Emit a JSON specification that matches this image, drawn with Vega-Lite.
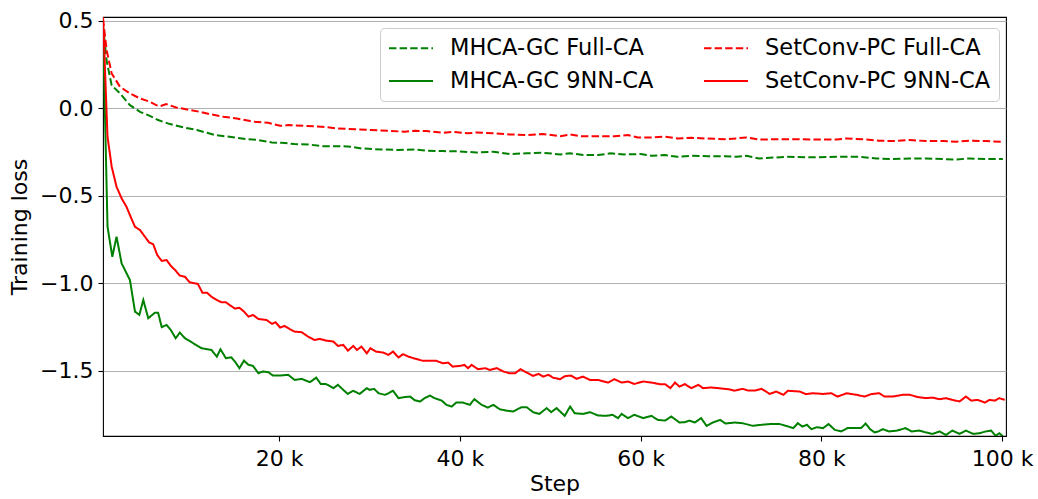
{
  "$schema": "https://vega.github.io/schema/vega-lite/v6.json",
  "width": 903,
  "height": 419,
  "autosize": {"type": "none"},
  "padding": {"left": 103, "top": 17, "right": 32, "bottom": 63},
  "background": "white",
  "config": {
    "font": "DejaVu Sans",
    "view": {"stroke": "#000000", "strokeWidth": 1.1},
    "axis": {
      "labelFont": "DejaVu Sans", "titleFont": "DejaVu Sans",
      "labelFontSize": 22, "titleFontSize": 22, "titleFontWeight": "normal",
      "labelColor": "#000000", "titleColor": "#000000",
      "tickColor": "#000000", "tickSize": 5, "tickWidth": 1.1,
      "domain": false, "labelPadding": 5
    },
    "legend": {
      "labelFont": "DejaVu Sans", "labelFontSize": 22.5, "labelColor": "#000000", "labelLimit": 0
    }
  },
  "data": {"values": [
    {"series":"MHCA-GC Full-CA","step":500,"loss":0.47},
    {"series":"MHCA-GC Full-CA","step":900,"loss":0.27},
    {"series":"MHCA-GC Full-CA","step":1460,"loss":0.13},
    {"series":"MHCA-GC Full-CA","step":2380,"loss":0.084},
    {"series":"MHCA-GC Full-CA","step":3480,"loss":0.017},
    {"series":"MHCA-GC Full-CA","step":4600,"loss":-0.021},
    {"series":"MHCA-GC Full-CA","step":5500,"loss":-0.04},
    {"series":"MHCA-GC Full-CA","step":6600,"loss":-0.068},
    {"series":"MHCA-GC Full-CA","step":7900,"loss":-0.091},
    {"series":"MHCA-GC Full-CA","step":9400,"loss":-0.11},
    {"series":"MHCA-GC Full-CA","step":10900,"loss":-0.125},
    {"series":"MHCA-GC Full-CA","step":12000,"loss":-0.141},
    {"series":"MHCA-GC Full-CA","step":12900,"loss":-0.154},
    {"series":"MHCA-GC Full-CA","step":14500,"loss":-0.163},
    {"series":"MHCA-GC Full-CA","step":16400,"loss":-0.177},
    {"series":"MHCA-GC Full-CA","step":17700,"loss":-0.182},
    {"series":"MHCA-GC Full-CA","step":19200,"loss":-0.196},
    {"series":"MHCA-GC Full-CA","step":20300,"loss":-0.198},
    {"series":"MHCA-GC Full-CA","step":21700,"loss":-0.205},
    {"series":"MHCA-GC Full-CA","step":23200,"loss":-0.207},
    {"series":"MHCA-GC Full-CA","step":24700,"loss":-0.217},
    {"series":"MHCA-GC Full-CA","step":26500,"loss":-0.217},
    {"series":"MHCA-GC Full-CA","step":28000,"loss":-0.22},
    {"series":"MHCA-GC Full-CA","step":29100,"loss":-0.23},
    {"series":"MHCA-GC Full-CA","step":31300,"loss":-0.236},
    {"series":"MHCA-GC Full-CA","step":33200,"loss":-0.239},
    {"series":"MHCA-GC Full-CA","step":35000,"loss":-0.236},
    {"series":"MHCA-GC Full-CA","step":36300,"loss":-0.243},
    {"series":"MHCA-GC Full-CA","step":38100,"loss":-0.245},
    {"series":"MHCA-GC Full-CA","step":40000,"loss":-0.247},
    {"series":"MHCA-GC Full-CA","step":41800,"loss":-0.253},
    {"series":"MHCA-GC Full-CA","step":43700,"loss":-0.249},
    {"series":"MHCA-GC Full-CA","step":45500,"loss":-0.262},
    {"series":"MHCA-GC Full-CA","step":47400,"loss":-0.258},
    {"series":"MHCA-GC Full-CA","step":49200,"loss":-0.255},
    {"series":"MHCA-GC Full-CA","step":51100,"loss":-0.264},
    {"series":"MHCA-GC Full-CA","step":52200,"loss":-0.258},
    {"series":"MHCA-GC Full-CA","step":53800,"loss":-0.268},
    {"series":"MHCA-GC Full-CA","step":55300,"loss":-0.268},
    {"series":"MHCA-GC Full-CA","step":56700,"loss":-0.258},
    {"series":"MHCA-GC Full-CA","step":58200,"loss":-0.264},
    {"series":"MHCA-GC Full-CA","step":60000,"loss":-0.262},
    {"series":"MHCA-GC Full-CA","step":61200,"loss":-0.272},
    {"series":"MHCA-GC Full-CA","step":62700,"loss":-0.268},
    {"series":"MHCA-GC Full-CA","step":64100,"loss":-0.278},
    {"series":"MHCA-GC Full-CA","step":65600,"loss":-0.272},
    {"series":"MHCA-GC Full-CA","step":67500,"loss":-0.274},
    {"series":"MHCA-GC Full-CA","step":69300,"loss":-0.274},
    {"series":"MHCA-GC Full-CA","step":70600,"loss":-0.278},
    {"series":"MHCA-GC Full-CA","step":71700,"loss":-0.272},
    {"series":"MHCA-GC Full-CA","step":73100,"loss":-0.287},
    {"series":"MHCA-GC Full-CA","step":76100,"loss":-0.278},
    {"series":"MHCA-GC Full-CA","step":79100,"loss":-0.281},
    {"series":"MHCA-GC Full-CA","step":81700,"loss":-0.278},
    {"series":"MHCA-GC Full-CA","step":84200,"loss":-0.278},
    {"series":"MHCA-GC Full-CA","step":86100,"loss":-0.287},
    {"series":"MHCA-GC Full-CA","step":87900,"loss":-0.291},
    {"series":"MHCA-GC Full-CA","step":89800,"loss":-0.287},
    {"series":"MHCA-GC Full-CA","step":91600,"loss":-0.287},
    {"series":"MHCA-GC Full-CA","step":93500,"loss":-0.291},
    {"series":"MHCA-GC Full-CA","step":95000,"loss":-0.293},
    {"series":"MHCA-GC Full-CA","step":96400,"loss":-0.287},
    {"series":"MHCA-GC Full-CA","step":98200,"loss":-0.291},
    {"series":"MHCA-GC Full-CA","step":100100,"loss":-0.291},

    {"series":"SetConv-PC Full-CA","step":500,"loss":0.51},
    {"series":"SetConv-PC Full-CA","step":900,"loss":0.331},
    {"series":"SetConv-PC Full-CA","step":1460,"loss":0.198},
    {"series":"SetConv-PC Full-CA","step":2380,"loss":0.122},
    {"series":"SetConv-PC Full-CA","step":3480,"loss":0.084},
    {"series":"SetConv-PC Full-CA","step":4600,"loss":0.055},
    {"series":"SetConv-PC Full-CA","step":5700,"loss":0.036},
    {"series":"SetConv-PC Full-CA","step":6400,"loss":0.017},
    {"series":"SetConv-PC Full-CA","step":6800,"loss":0.011},
    {"series":"SetConv-PC Full-CA","step":7500,"loss":0.023},
    {"series":"SetConv-PC Full-CA","step":8600,"loss":0.004},
    {"series":"SetConv-PC Full-CA","step":10100,"loss":-0.011},
    {"series":"SetConv-PC Full-CA","step":11200,"loss":-0.021},
    {"series":"SetConv-PC Full-CA","step":12300,"loss":-0.034},
    {"series":"SetConv-PC Full-CA","step":13800,"loss":-0.049},
    {"series":"SetConv-PC Full-CA","step":15300,"loss":-0.059},
    {"series":"SetConv-PC Full-CA","step":16800,"loss":-0.074},
    {"series":"SetConv-PC Full-CA","step":17300,"loss":-0.078},
    {"series":"SetConv-PC Full-CA","step":18800,"loss":-0.084},
    {"series":"SetConv-PC Full-CA","step":20100,"loss":-0.101},
    {"series":"SetConv-PC Full-CA","step":21000,"loss":-0.097},
    {"series":"SetConv-PC Full-CA","step":22900,"loss":-0.101},
    {"series":"SetConv-PC Full-CA","step":24700,"loss":-0.106},
    {"series":"SetConv-PC Full-CA","step":26500,"loss":-0.116},
    {"series":"SetConv-PC Full-CA","step":28400,"loss":-0.12},
    {"series":"SetConv-PC Full-CA","step":30200,"loss":-0.125},
    {"series":"SetConv-PC Full-CA","step":32100,"loss":-0.129},
    {"series":"SetConv-PC Full-CA","step":33900,"loss":-0.135},
    {"series":"SetConv-PC Full-CA","step":35000,"loss":-0.129},
    {"series":"SetConv-PC Full-CA","step":36300,"loss":-0.131},
    {"series":"SetConv-PC Full-CA","step":38100,"loss":-0.141},
    {"series":"SetConv-PC Full-CA","step":39200,"loss":-0.135},
    {"series":"SetConv-PC Full-CA","step":40900,"loss":-0.144},
    {"series":"SetConv-PC Full-CA","step":41800,"loss":-0.139},
    {"series":"SetConv-PC Full-CA","step":43700,"loss":-0.144},
    {"series":"SetConv-PC Full-CA","step":45500,"loss":-0.15},
    {"series":"SetConv-PC Full-CA","step":47400,"loss":-0.154},
    {"series":"SetConv-PC Full-CA","step":49200,"loss":-0.148},
    {"series":"SetConv-PC Full-CA","step":51100,"loss":-0.16},
    {"series":"SetConv-PC Full-CA","step":52200,"loss":-0.15},
    {"series":"SetConv-PC Full-CA","step":53400,"loss":-0.16},
    {"series":"SetConv-PC Full-CA","step":55300,"loss":-0.16},
    {"series":"SetConv-PC Full-CA","step":57100,"loss":-0.16},
    {"series":"SetConv-PC Full-CA","step":58600,"loss":-0.154},
    {"series":"SetConv-PC Full-CA","step":59700,"loss":-0.167},
    {"series":"SetConv-PC Full-CA","step":61200,"loss":-0.167},
    {"series":"SetConv-PC Full-CA","step":62700,"loss":-0.163},
    {"series":"SetConv-PC Full-CA","step":64100,"loss":-0.173},
    {"series":"SetConv-PC Full-CA","step":65600,"loss":-0.169},
    {"series":"SetConv-PC Full-CA","step":67100,"loss":-0.173},
    {"series":"SetConv-PC Full-CA","step":69300,"loss":-0.177},
    {"series":"SetConv-PC Full-CA","step":70600,"loss":-0.173},
    {"series":"SetConv-PC Full-CA","step":71700,"loss":-0.167},
    {"series":"SetConv-PC Full-CA","step":73100,"loss":-0.179},
    {"series":"SetConv-PC Full-CA","step":76100,"loss":-0.177},
    {"series":"SetConv-PC Full-CA","step":79100,"loss":-0.179},
    {"series":"SetConv-PC Full-CA","step":81700,"loss":-0.179},
    {"series":"SetConv-PC Full-CA","step":82800,"loss":-0.173},
    {"series":"SetConv-PC Full-CA","step":85000,"loss":-0.179},
    {"series":"SetConv-PC Full-CA","step":86400,"loss":-0.186},
    {"series":"SetConv-PC Full-CA","step":87900,"loss":-0.188},
    {"series":"SetConv-PC Full-CA","step":89800,"loss":-0.182},
    {"series":"SetConv-PC Full-CA","step":91600,"loss":-0.188},
    {"series":"SetConv-PC Full-CA","step":93500,"loss":-0.188},
    {"series":"SetConv-PC Full-CA","step":94900,"loss":-0.192},
    {"series":"SetConv-PC Full-CA","step":96400,"loss":-0.186},
    {"series":"SetConv-PC Full-CA","step":98200,"loss":-0.188},
    {"series":"SetConv-PC Full-CA","step":100100,"loss":-0.192},

    {"series":"MHCA-GC 9NN-CA","step":500,"loss":0.47},
    {"series":"MHCA-GC 9NN-CA","step":1000,"loss":-0.677},
    {"series":"MHCA-GC 9NN-CA","step":1530,"loss":-0.848},
    {"series":"MHCA-GC 9NN-CA","step":2000,"loss":-0.734},
    {"series":"MHCA-GC 9NN-CA","step":2560,"loss":-0.886},
    {"series":"MHCA-GC 9NN-CA","step":3480,"loss":-0.981},
    {"series":"MHCA-GC 9NN-CA","step":4040,"loss":-1.161},
    {"series":"MHCA-GC 9NN-CA","step":4520,"loss":-1.18},
    {"series":"MHCA-GC 9NN-CA","step":4960,"loss":-1.095},
    {"series":"MHCA-GC 9NN-CA","step":5510,"loss":-1.199},
    {"series":"MHCA-GC 9NN-CA","step":6250,"loss":-1.167},
    {"series":"MHCA-GC 9NN-CA","step":6600,"loss":-1.167},
    {"series":"MHCA-GC 9NN-CA","step":7000,"loss":-1.25},
    {"series":"MHCA-GC 9NN-CA","step":7540,"loss":-1.237},
    {"series":"MHCA-GC 9NN-CA","step":8000,"loss":-1.266},
    {"series":"MHCA-GC 9NN-CA","step":8540,"loss":-1.313},
    {"series":"MHCA-GC 9NN-CA","step":9000,"loss":-1.281},
    {"series":"MHCA-GC 9NN-CA","step":9570,"loss":-1.313},
    {"series":"MHCA-GC 9NN-CA","step":10500,"loss":-1.342},
    {"series":"MHCA-GC 9NN-CA","step":11400,"loss":-1.37},
    {"series":"MHCA-GC 9NN-CA","step":12500,"loss":-1.38},
    {"series":"MHCA-GC 9NN-CA","step":13100,"loss":-1.418},
    {"series":"MHCA-GC 9NN-CA","step":13500,"loss":-1.376},
    {"series":"MHCA-GC 9NN-CA","step":14100,"loss":-1.427},
    {"series":"MHCA-GC 9NN-CA","step":14700,"loss":-1.422},
    {"series":"MHCA-GC 9NN-CA","step":15100,"loss":-1.446},
    {"series":"MHCA-GC 9NN-CA","step":15600,"loss":-1.484},
    {"series":"MHCA-GC 9NN-CA","step":16100,"loss":-1.441},
    {"series":"MHCA-GC 9NN-CA","step":16600,"loss":-1.465},
    {"series":"MHCA-GC 9NN-CA","step":17100,"loss":-1.471},
    {"series":"MHCA-GC 9NN-CA","step":17700,"loss":-1.513},
    {"series":"MHCA-GC 9NN-CA","step":18200,"loss":-1.503},
    {"series":"MHCA-GC 9NN-CA","step":18800,"loss":-1.507},
    {"series":"MHCA-GC 9NN-CA","step":19300,"loss":-1.526},
    {"series":"MHCA-GC 9NN-CA","step":20100,"loss":-1.526},
    {"series":"MHCA-GC 9NN-CA","step":21000,"loss":-1.522},
    {"series":"MHCA-GC 9NN-CA","step":21700,"loss":-1.551},
    {"series":"MHCA-GC 9NN-CA","step":22500,"loss":-1.545},
    {"series":"MHCA-GC 9NN-CA","step":23400,"loss":-1.564},
    {"series":"MHCA-GC 9NN-CA","step":24100,"loss":-1.538},
    {"series":"MHCA-GC 9NN-CA","step":24600,"loss":-1.574},
    {"series":"MHCA-GC 9NN-CA","step":25200,"loss":-1.575},
    {"series":"MHCA-GC 9NN-CA","step":26000,"loss":-1.598},
    {"series":"MHCA-GC 9NN-CA","step":26500,"loss":-1.579},
    {"series":"MHCA-GC 9NN-CA","step":27100,"loss":-1.608},
    {"series":"MHCA-GC 9NN-CA","step":27600,"loss":-1.631},
    {"series":"MHCA-GC 9NN-CA","step":28200,"loss":-1.613},
    {"series":"MHCA-GC 9NN-CA","step":28900,"loss":-1.631},
    {"series":"MHCA-GC 9NN-CA","step":29700,"loss":-1.598},
    {"series":"MHCA-GC 9NN-CA","step":30000,"loss":-1.608},
    {"series":"MHCA-GC 9NN-CA","step":30500,"loss":-1.602},
    {"series":"MHCA-GC 9NN-CA","step":31000,"loss":-1.627},
    {"series":"MHCA-GC 9NN-CA","step":31700,"loss":-1.636},
    {"series":"MHCA-GC 9NN-CA","step":32100,"loss":-1.627},
    {"series":"MHCA-GC 9NN-CA","step":32600,"loss":-1.613},
    {"series":"MHCA-GC 9NN-CA","step":33200,"loss":-1.655},
    {"series":"MHCA-GC 9NN-CA","step":33900,"loss":-1.649},
    {"series":"MHCA-GC 9NN-CA","step":34500,"loss":-1.646},
    {"series":"MHCA-GC 9NN-CA","step":35000,"loss":-1.667},
    {"series":"MHCA-GC 9NN-CA","step":35600,"loss":-1.674},
    {"series":"MHCA-GC 9NN-CA","step":36100,"loss":-1.655},
    {"series":"MHCA-GC 9NN-CA","step":36700,"loss":-1.64},
    {"series":"MHCA-GC 9NN-CA","step":37200,"loss":-1.655},
    {"series":"MHCA-GC 9NN-CA","step":38000,"loss":-1.669},
    {"series":"MHCA-GC 9NN-CA","step":38500,"loss":-1.693},
    {"series":"MHCA-GC 9NN-CA","step":39100,"loss":-1.703},
    {"series":"MHCA-GC 9NN-CA","step":39600,"loss":-1.68},
    {"series":"MHCA-GC 9NN-CA","step":40300,"loss":-1.68},
    {"series":"MHCA-GC 9NN-CA","step":41100,"loss":-1.693},
    {"series":"MHCA-GC 9NN-CA","step":41600,"loss":-1.661},
    {"series":"MHCA-GC 9NN-CA","step":42400,"loss":-1.693},
    {"series":"MHCA-GC 9NN-CA","step":43100,"loss":-1.709},
    {"series":"MHCA-GC 9NN-CA","step":43700,"loss":-1.693},
    {"series":"MHCA-GC 9NN-CA","step":44400,"loss":-1.718},
    {"series":"MHCA-GC 9NN-CA","step":45200,"loss":-1.727},
    {"series":"MHCA-GC 9NN-CA","step":45900,"loss":-1.731},
    {"series":"MHCA-GC 9NN-CA","step":46800,"loss":-1.707},
    {"series":"MHCA-GC 9NN-CA","step":47400,"loss":-1.707},
    {"series":"MHCA-GC 9NN-CA","step":48100,"loss":-1.735},
    {"series":"MHCA-GC 9NN-CA","step":48800,"loss":-1.745},
    {"series":"MHCA-GC 9NN-CA","step":49600,"loss":-1.712},
    {"series":"MHCA-GC 9NN-CA","step":50100,"loss":-1.735},
    {"series":"MHCA-GC 9NN-CA","step":50700,"loss":-1.712},
    {"series":"MHCA-GC 9NN-CA","step":51600,"loss":-1.756},
    {"series":"MHCA-GC 9NN-CA","step":52200,"loss":-1.703},
    {"series":"MHCA-GC 9NN-CA","step":52700,"loss":-1.741},
    {"series":"MHCA-GC 9NN-CA","step":53600,"loss":-1.745},
    {"series":"MHCA-GC 9NN-CA","step":54400,"loss":-1.735},
    {"series":"MHCA-GC 9NN-CA","step":55300,"loss":-1.754},
    {"series":"MHCA-GC 9NN-CA","step":56200,"loss":-1.756},
    {"series":"MHCA-GC 9NN-CA","step":56900,"loss":-1.75},
    {"series":"MHCA-GC 9NN-CA","step":57500,"loss":-1.769},
    {"series":"MHCA-GC 9NN-CA","step":57900,"loss":-1.745},
    {"series":"MHCA-GC 9NN-CA","step":58600,"loss":-1.769},
    {"series":"MHCA-GC 9NN-CA","step":59300,"loss":-1.75},
    {"series":"MHCA-GC 9NN-CA","step":60300,"loss":-1.769},
    {"series":"MHCA-GC 9NN-CA","step":61200,"loss":-1.756},
    {"series":"MHCA-GC 9NN-CA","step":61900,"loss":-1.779},
    {"series":"MHCA-GC 9NN-CA","step":62700,"loss":-1.783},
    {"series":"MHCA-GC 9NN-CA","step":63400,"loss":-1.76},
    {"series":"MHCA-GC 9NN-CA","step":64300,"loss":-1.794},
    {"series":"MHCA-GC 9NN-CA","step":64900,"loss":-1.792},
    {"series":"MHCA-GC 9NN-CA","step":65400,"loss":-1.783},
    {"series":"MHCA-GC 9NN-CA","step":66000,"loss":-1.794},
    {"series":"MHCA-GC 9NN-CA","step":66700,"loss":-1.769},
    {"series":"MHCA-GC 9NN-CA","step":67300,"loss":-1.813},
    {"series":"MHCA-GC 9NN-CA","step":68000,"loss":-1.794},
    {"series":"MHCA-GC 9NN-CA","step":68800,"loss":-1.779},
    {"series":"MHCA-GC 9NN-CA","step":69400,"loss":-1.8},
    {"series":"MHCA-GC 9NN-CA","step":70400,"loss":-1.794},
    {"series":"MHCA-GC 9NN-CA","step":71300,"loss":-1.798},
    {"series":"MHCA-GC 9NN-CA","step":72400,"loss":-1.813},
    {"series":"MHCA-GC 9NN-CA","step":73400,"loss":-1.807},
    {"series":"MHCA-GC 9NN-CA","step":74300,"loss":-1.803},
    {"series":"MHCA-GC 9NN-CA","step":75400,"loss":-1.803},
    {"series":"MHCA-GC 9NN-CA","step":76100,"loss":-1.813},
    {"series":"MHCA-GC 9NN-CA","step":76900,"loss":-1.826},
    {"series":"MHCA-GC 9NN-CA","step":77400,"loss":-1.798},
    {"series":"MHCA-GC 9NN-CA","step":77900,"loss":-1.817},
    {"series":"MHCA-GC 9NN-CA","step":78400,"loss":-1.807},
    {"series":"MHCA-GC 9NN-CA","step":78900,"loss":-1.832},
    {"series":"MHCA-GC 9NN-CA","step":79500,"loss":-1.821},
    {"series":"MHCA-GC 9NN-CA","step":80200,"loss":-1.826},
    {"series":"MHCA-GC 9NN-CA","step":80800,"loss":-1.803},
    {"series":"MHCA-GC 9NN-CA","step":81500,"loss":-1.836},
    {"series":"MHCA-GC 9NN-CA","step":82200,"loss":-1.845},
    {"series":"MHCA-GC 9NN-CA","step":82900,"loss":-1.826},
    {"series":"MHCA-GC 9NN-CA","step":83900,"loss":-1.826},
    {"series":"MHCA-GC 9NN-CA","step":84400,"loss":-1.826},
    {"series":"MHCA-GC 9NN-CA","step":84900,"loss":-1.8},
    {"series":"MHCA-GC 9NN-CA","step":85400,"loss":-1.832},
    {"series":"MHCA-GC 9NN-CA","step":85900,"loss":-1.851},
    {"series":"MHCA-GC 9NN-CA","step":86400,"loss":-1.843},
    {"series":"MHCA-GC 9NN-CA","step":86800,"loss":-1.832},
    {"series":"MHCA-GC 9NN-CA","step":87500,"loss":-1.845},
    {"series":"MHCA-GC 9NN-CA","step":88400,"loss":-1.84},
    {"series":"MHCA-GC 9NN-CA","step":89300,"loss":-1.826},
    {"series":"MHCA-GC 9NN-CA","step":90000,"loss":-1.845},
    {"series":"MHCA-GC 9NN-CA","step":90800,"loss":-1.84},
    {"series":"MHCA-GC 9NN-CA","step":91600,"loss":-1.851},
    {"series":"MHCA-GC 9NN-CA","step":92300,"loss":-1.859},
    {"series":"MHCA-GC 9NN-CA","step":93100,"loss":-1.845},
    {"series":"MHCA-GC 9NN-CA","step":93800,"loss":-1.865},
    {"series":"MHCA-GC 9NN-CA","step":94500,"loss":-1.84},
    {"series":"MHCA-GC 9NN-CA","step":95300,"loss":-1.859},
    {"series":"MHCA-GC 9NN-CA","step":96000,"loss":-1.84},
    {"series":"MHCA-GC 9NN-CA","step":96800,"loss":-1.859},
    {"series":"MHCA-GC 9NN-CA","step":97500,"loss":-1.855},
    {"series":"MHCA-GC 9NN-CA","step":98200,"loss":-1.845},
    {"series":"MHCA-GC 9NN-CA","step":98800,"loss":-1.84},
    {"series":"MHCA-GC 9NN-CA","step":99300,"loss":-1.87},
    {"series":"MHCA-GC 9NN-CA","step":99700,"loss":-1.855},
    {"series":"MHCA-GC 9NN-CA","step":100100,"loss":-1.873},

    {"series":"SetConv-PC 9NN-CA","step":500,"loss":0.52},
    {"series":"SetConv-PC 9NN-CA","step":1000,"loss":-0.163},
    {"series":"SetConv-PC 9NN-CA","step":1460,"loss":-0.334},
    {"series":"SetConv-PC 9NN-CA","step":2000,"loss":-0.449},
    {"series":"SetConv-PC 9NN-CA","step":2560,"loss":-0.515},
    {"series":"SetConv-PC 9NN-CA","step":3100,"loss":-0.563},
    {"series":"SetConv-PC 9NN-CA","step":3560,"loss":-0.62},
    {"series":"SetConv-PC 9NN-CA","step":4040,"loss":-0.677},
    {"series":"SetConv-PC 9NN-CA","step":4600,"loss":-0.696},
    {"series":"SetConv-PC 9NN-CA","step":5140,"loss":-0.734},
    {"series":"SetConv-PC 9NN-CA","step":5600,"loss":-0.766},
    {"series":"SetConv-PC 9NN-CA","step":6060,"loss":-0.777},
    {"series":"SetConv-PC 9NN-CA","step":6500,"loss":-0.838},
    {"series":"SetConv-PC 9NN-CA","step":7000,"loss":-0.872},
    {"series":"SetConv-PC 9NN-CA","step":7540,"loss":-0.867},
    {"series":"SetConv-PC 9NN-CA","step":8000,"loss":-0.9},
    {"series":"SetConv-PC 9NN-CA","step":8540,"loss":-0.927},
    {"series":"SetConv-PC 9NN-CA","step":9000,"loss":-0.956},
    {"series":"SetConv-PC 9NN-CA","step":9570,"loss":-0.962},
    {"series":"SetConv-PC 9NN-CA","step":10100,"loss":-0.994},
    {"series":"SetConv-PC 9NN-CA","step":10700,"loss":-1.0},
    {"series":"SetConv-PC 9NN-CA","step":11000,"loss":-1.003},
    {"series":"SetConv-PC 9NN-CA","step":11500,"loss":-1.053},
    {"series":"SetConv-PC 9NN-CA","step":12000,"loss":-1.053},
    {"series":"SetConv-PC 9NN-CA","step":12500,"loss":-1.076},
    {"series":"SetConv-PC 9NN-CA","step":13100,"loss":-1.095},
    {"series":"SetConv-PC 9NN-CA","step":13600,"loss":-1.108},
    {"series":"SetConv-PC 9NN-CA","step":14100,"loss":-1.108},
    {"series":"SetConv-PC 9NN-CA","step":14500,"loss":-1.123},
    {"series":"SetConv-PC 9NN-CA","step":15100,"loss":-1.144},
    {"series":"SetConv-PC 9NN-CA","step":15600,"loss":-1.139},
    {"series":"SetConv-PC 9NN-CA","step":16100,"loss":-1.161},
    {"series":"SetConv-PC 9NN-CA","step":16600,"loss":-1.19},
    {"series":"SetConv-PC 9NN-CA","step":17100,"loss":-1.18},
    {"series":"SetConv-PC 9NN-CA","step":17700,"loss":-1.203},
    {"series":"SetConv-PC 9NN-CA","step":18600,"loss":-1.209},
    {"series":"SetConv-PC 9NN-CA","step":19200,"loss":-1.231},
    {"series":"SetConv-PC 9NN-CA","step":19600,"loss":-1.222},
    {"series":"SetConv-PC 9NN-CA","step":20100,"loss":-1.252},
    {"series":"SetConv-PC 9NN-CA","step":20600,"loss":-1.243},
    {"series":"SetConv-PC 9NN-CA","step":21200,"loss":-1.262},
    {"series":"SetConv-PC 9NN-CA","step":21700,"loss":-1.275},
    {"series":"SetConv-PC 9NN-CA","step":22500,"loss":-1.279},
    {"series":"SetConv-PC 9NN-CA","step":23200,"loss":-1.304},
    {"series":"SetConv-PC 9NN-CA","step":23900,"loss":-1.323},
    {"series":"SetConv-PC 9NN-CA","step":24500,"loss":-1.317},
    {"series":"SetConv-PC 9NN-CA","step":25200,"loss":-1.327},
    {"series":"SetConv-PC 9NN-CA","step":26000,"loss":-1.332},
    {"series":"SetConv-PC 9NN-CA","step":26500,"loss":-1.357},
    {"series":"SetConv-PC 9NN-CA","step":27100,"loss":-1.351},
    {"series":"SetConv-PC 9NN-CA","step":27600,"loss":-1.384},
    {"series":"SetConv-PC 9NN-CA","step":28200,"loss":-1.357},
    {"series":"SetConv-PC 9NN-CA","step":28600,"loss":-1.38},
    {"series":"SetConv-PC 9NN-CA","step":29100,"loss":-1.361},
    {"series":"SetConv-PC 9NN-CA","step":29700,"loss":-1.399},
    {"series":"SetConv-PC 9NN-CA","step":30100,"loss":-1.37},
    {"series":"SetConv-PC 9NN-CA","step":30700,"loss":-1.389},
    {"series":"SetConv-PC 9NN-CA","step":31500,"loss":-1.395},
    {"series":"SetConv-PC 9NN-CA","step":32100,"loss":-1.408},
    {"series":"SetConv-PC 9NN-CA","step":32600,"loss":-1.389},
    {"series":"SetConv-PC 9NN-CA","step":33200,"loss":-1.423},
    {"series":"SetConv-PC 9NN-CA","step":33700,"loss":-1.404},
    {"series":"SetConv-PC 9NN-CA","step":34300,"loss":-1.418},
    {"series":"SetConv-PC 9NN-CA","step":35000,"loss":-1.429},
    {"series":"SetConv-PC 9NN-CA","step":35900,"loss":-1.442},
    {"series":"SetConv-PC 9NN-CA","step":36700,"loss":-1.441},
    {"series":"SetConv-PC 9NN-CA","step":37400,"loss":-1.442},
    {"series":"SetConv-PC 9NN-CA","step":38100,"loss":-1.456},
    {"series":"SetConv-PC 9NN-CA","step":38700,"loss":-1.452},
    {"series":"SetConv-PC 9NN-CA","step":39200,"loss":-1.475},
    {"series":"SetConv-PC 9NN-CA","step":40000,"loss":-1.471},
    {"series":"SetConv-PC 9NN-CA","step":40500,"loss":-1.465},
    {"series":"SetConv-PC 9NN-CA","step":40900,"loss":-1.484},
    {"series":"SetConv-PC 9NN-CA","step":41300,"loss":-1.465},
    {"series":"SetConv-PC 9NN-CA","step":42000,"loss":-1.49},
    {"series":"SetConv-PC 9NN-CA","step":42800,"loss":-1.484},
    {"series":"SetConv-PC 9NN-CA","step":43300,"loss":-1.494},
    {"series":"SetConv-PC 9NN-CA","step":44100,"loss":-1.484},
    {"series":"SetConv-PC 9NN-CA","step":44800,"loss":-1.503},
    {"series":"SetConv-PC 9NN-CA","step":45500,"loss":-1.513},
    {"series":"SetConv-PC 9NN-CA","step":46100,"loss":-1.513},
    {"series":"SetConv-PC 9NN-CA","step":46700,"loss":-1.49},
    {"series":"SetConv-PC 9NN-CA","step":47400,"loss":-1.509},
    {"series":"SetConv-PC 9NN-CA","step":48100,"loss":-1.528},
    {"series":"SetConv-PC 9NN-CA","step":48700,"loss":-1.517},
    {"series":"SetConv-PC 9NN-CA","step":49200,"loss":-1.532},
    {"series":"SetConv-PC 9NN-CA","step":49800,"loss":-1.522},
    {"series":"SetConv-PC 9NN-CA","step":50300,"loss":-1.538},
    {"series":"SetConv-PC 9NN-CA","step":51100,"loss":-1.547},
    {"series":"SetConv-PC 9NN-CA","step":51600,"loss":-1.53},
    {"series":"SetConv-PC 9NN-CA","step":52300,"loss":-1.526},
    {"series":"SetConv-PC 9NN-CA","step":52900,"loss":-1.545},
    {"series":"SetConv-PC 9NN-CA","step":53600,"loss":-1.532},
    {"series":"SetConv-PC 9NN-CA","step":54400,"loss":-1.551},
    {"series":"SetConv-PC 9NN-CA","step":55300,"loss":-1.551},
    {"series":"SetConv-PC 9NN-CA","step":56400,"loss":-1.566},
    {"series":"SetConv-PC 9NN-CA","step":57100,"loss":-1.547},
    {"series":"SetConv-PC 9NN-CA","step":57900,"loss":-1.566},
    {"series":"SetConv-PC 9NN-CA","step":58600,"loss":-1.56},
    {"series":"SetConv-PC 9NN-CA","step":59300,"loss":-1.574},
    {"series":"SetConv-PC 9NN-CA","step":60300,"loss":-1.56},
    {"series":"SetConv-PC 9NN-CA","step":61200,"loss":-1.566},
    {"series":"SetConv-PC 9NN-CA","step":62100,"loss":-1.575},
    {"series":"SetConv-PC 9NN-CA","step":62700,"loss":-1.575},
    {"series":"SetConv-PC 9NN-CA","step":63300,"loss":-1.598},
    {"series":"SetConv-PC 9NN-CA","step":63800,"loss":-1.566},
    {"series":"SetConv-PC 9NN-CA","step":64300,"loss":-1.589},
    {"series":"SetConv-PC 9NN-CA","step":64900,"loss":-1.575},
    {"series":"SetConv-PC 9NN-CA","step":65600,"loss":-1.598},
    {"series":"SetConv-PC 9NN-CA","step":66400,"loss":-1.579},
    {"series":"SetConv-PC 9NN-CA","step":66900,"loss":-1.598},
    {"series":"SetConv-PC 9NN-CA","step":67800,"loss":-1.594},
    {"series":"SetConv-PC 9NN-CA","step":68600,"loss":-1.598},
    {"series":"SetConv-PC 9NN-CA","step":69300,"loss":-1.602},
    {"series":"SetConv-PC 9NN-CA","step":69700,"loss":-1.604},
    {"series":"SetConv-PC 9NN-CA","step":70400,"loss":-1.612},
    {"series":"SetConv-PC 9NN-CA","step":71300,"loss":-1.602},
    {"series":"SetConv-PC 9NN-CA","step":71900,"loss":-1.612},
    {"series":"SetConv-PC 9NN-CA","step":72600,"loss":-1.612},
    {"series":"SetConv-PC 9NN-CA","step":73400,"loss":-1.602},
    {"series":"SetConv-PC 9NN-CA","step":74300,"loss":-1.631},
    {"series":"SetConv-PC 9NN-CA","step":75000,"loss":-1.617},
    {"series":"SetConv-PC 9NN-CA","step":75800,"loss":-1.636},
    {"series":"SetConv-PC 9NN-CA","step":76300,"loss":-1.613},
    {"series":"SetConv-PC 9NN-CA","step":77600,"loss":-1.617},
    {"series":"SetConv-PC 9NN-CA","step":78300,"loss":-1.632},
    {"series":"SetConv-PC 9NN-CA","step":79100,"loss":-1.627},
    {"series":"SetConv-PC 9NN-CA","step":80200,"loss":-1.631},
    {"series":"SetConv-PC 9NN-CA","step":81100,"loss":-1.627},
    {"series":"SetConv-PC 9NN-CA","step":81800,"loss":-1.646},
    {"series":"SetConv-PC 9NN-CA","step":82800,"loss":-1.627},
    {"series":"SetConv-PC 9NN-CA","step":83900,"loss":-1.636},
    {"series":"SetConv-PC 9NN-CA","step":84800,"loss":-1.646},
    {"series":"SetConv-PC 9NN-CA","step":85500,"loss":-1.632},
    {"series":"SetConv-PC 9NN-CA","step":86400,"loss":-1.627},
    {"series":"SetConv-PC 9NN-CA","step":87000,"loss":-1.646},
    {"series":"SetConv-PC 9NN-CA","step":87900,"loss":-1.646},
    {"series":"SetConv-PC 9NN-CA","step":89000,"loss":-1.636},
    {"series":"SetConv-PC 9NN-CA","step":89800,"loss":-1.636},
    {"series":"SetConv-PC 9NN-CA","step":90700,"loss":-1.649},
    {"series":"SetConv-PC 9NN-CA","step":91600,"loss":-1.655},
    {"series":"SetConv-PC 9NN-CA","step":92300,"loss":-1.652},
    {"series":"SetConv-PC 9NN-CA","step":93100,"loss":-1.661},
    {"series":"SetConv-PC 9NN-CA","step":93800,"loss":-1.655},
    {"series":"SetConv-PC 9NN-CA","step":94500,"loss":-1.665},
    {"series":"SetConv-PC 9NN-CA","step":95300,"loss":-1.674},
    {"series":"SetConv-PC 9NN-CA","step":96000,"loss":-1.646},
    {"series":"SetConv-PC 9NN-CA","step":96600,"loss":-1.669},
    {"series":"SetConv-PC 9NN-CA","step":97300,"loss":-1.665},
    {"series":"SetConv-PC 9NN-CA","step":98100,"loss":-1.68},
    {"series":"SetConv-PC 9NN-CA","step":98600,"loss":-1.665},
    {"series":"SetConv-PC 9NN-CA","step":99200,"loss":-1.669},
    {"series":"SetConv-PC 9NN-CA","step":99700,"loss":-1.655},
    {"series":"SetConv-PC 9NN-CA","step":100300,"loss":-1.665}
  ]},
  "mark": {"type": "line", "strokeWidth": 2, "clip": true},
  "encoding": {
    "x": {
      "field": "step", "type": "quantitative",
      "scale": {"domain": [500, 100440], "nice": false, "zero": false},
      "axis": {"title": "Step", "grid": false, "values": [20000, 40000, 60000, 80000, 100000],
               "labelExpr": "format(datum.value / 1000, 'd') + ' k'", "labelPadding": 7, "titlePadding": 4}
    },
    "y": {
      "field": "loss", "type": "quantitative",
      "scale": {"domain": [-1.871, 0.52], "nice": false, "zero": false},
      "axis": {"title": "Training loss", "grid": true, "gridColor": "#b0b0b0", "gridWidth": 1.1,
               "values": [-1.5, -1.0, -0.5, 0.0, 0.5], "format": ".1f", "titlePadding": 8}
    },
    "color": {
      "field": "series", "type": "nominal",
      "scale": {
        "domain": ["MHCA-GC Full-CA", "MHCA-GC 9NN-CA", "SetConv-PC Full-CA", "SetConv-PC 9NN-CA"],
        "range": ["#008000", "#008000", "#ff0000", "#ff0000"]
      },
      "legend": {
        "title": null, "orient": "none", "legendX": 277, "legendY": 11, "columns": 2,
        "symbolType": "M-1,0H3", "symbolSize": 484, "symbolStrokeWidth": 2,
        "labelOffset": 38, "columnPadding": 46, "rowPadding": 9, "padding": 8,
        "fillColor": "#ffffff", "strokeColor": "#cccccc", "cornerRadius": 4
      }
    },
    "strokeDash": {
      "field": "series", "type": "nominal",
      "scale": {
        "domain": ["MHCA-GC Full-CA", "MHCA-GC 9NN-CA", "SetConv-PC Full-CA", "SetConv-PC 9NN-CA"],
        "range": [[7.4, 3.2], [1, 0], [7.4, 3.2], [1, 0]]
      },
      "legend": {
        "title": null, "orient": "none", "legendX": 277, "legendY": 11, "columns": 2,
        "symbolType": "M-1,0H3", "symbolSize": 484, "symbolStrokeWidth": 2,
        "labelOffset": 38, "columnPadding": 46, "rowPadding": 9, "padding": 8,
        "fillColor": "#ffffff", "strokeColor": "#cccccc", "cornerRadius": 4
      }
    }
  }
}
